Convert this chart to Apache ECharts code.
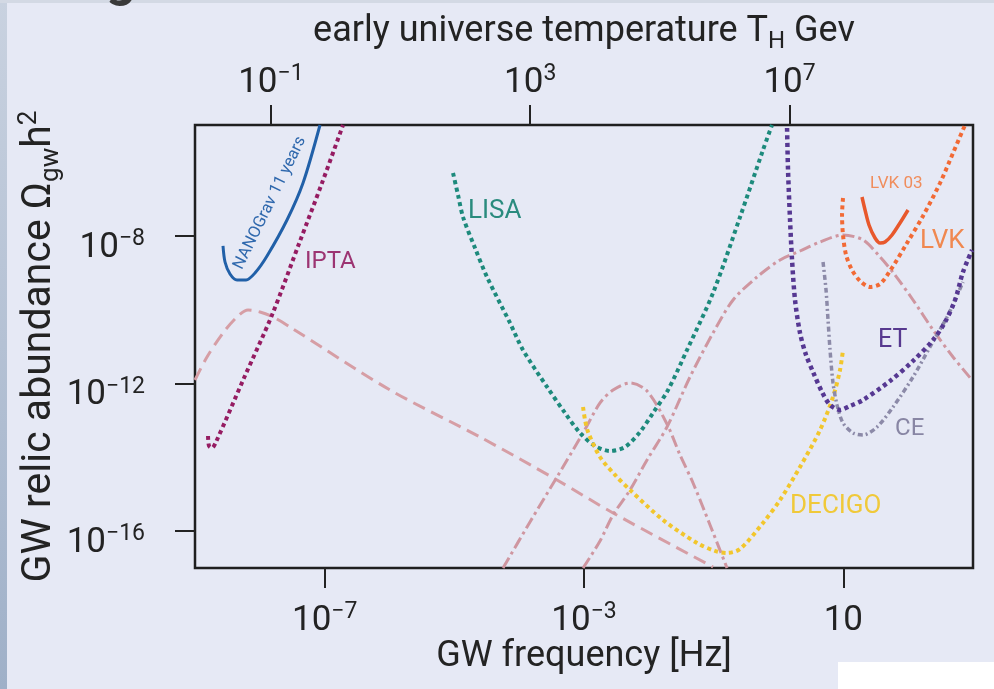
<!DOCTYPE html>
<html>
<head>
<meta charset="utf-8">
<script src="https://cdn.jsdelivr.net/npm/echarts@6/dist/echarts.min.js"></script>
<style>
  html, body { margin: 0; padding: 0; background: #e6e9f5; }
  #chart { width: 994px; height: 689px; }
</style>
</head>
<body>
<div id="chart"></div>
<script>
// All positions are stored as log10 values: x = log10(f / Hz), y = log10(Omega_gw h^2)
const freqTicks = [-7, -3, 1];
const tempTicks = [-1, 3, 7];
const omegaTicks = [-16, -12, -8];
const tempOffset = 6.83; // log10(T_H / GeV) = log10(f / Hz) + tempOffset

// Sensitivity curves
const nanograv = [[-8.568,-8.277],[-8.537,-8.711],[-8.46,-9.036],[-8.352,-9.198],[-8.213,-9.198],[-8.075,-9.009],[-7.889,-8.548],[-7.581,-7.573],[-7.334,-6.571],[-7.072,-5.0]];
const ipta = [[-8.799,-13.424],[-8.784,-13.694],[-8.738,-13.748],[-8.676,-13.586],[-8.244,-11.853],[-7.812,-10.146],[-7.38,-8.142],[-7.041,-6.571],[-6.717,-5.0]];
const lisa = [[-5.02,-6.3],[-4.943,-6.896],[-4.866,-7.492],[-4.681,-8.331],[-4.496,-9.117],[-4.141,-10.363],[-3.941,-11.094],[-3.57,-12.096],[-3.293,-12.8],[-3.061,-13.342],[-2.83,-13.695],[-2.599,-13.83],[-2.367,-13.722],[-2.136,-13.315],[-1.935,-12.8],[-1.704,-12.178],[-1.411,-11.094],[-1.01,-9.55],[-0.593,-7.492],[-0.239,-5.677],[-0.1,-5.0]];
const decigo = [[-3.015,-12.638],[-2.984,-12.99],[-2.938,-13.315],[-2.753,-13.992],[-2.521,-14.48],[-2.29,-14.886],[-1.781,-15.699],[-1.257,-16.322],[-0.979,-16.538],[-0.794,-16.592],[-0.593,-16.484],[-0.239,-15.78],[0.024,-15.157],[0.332,-14.263],[0.641,-13.261],[0.841,-12.367],[0.949,-11.636],[0.995,-11.094]];
const et = [[0.132,-5.081],[0.147,-6.219],[0.178,-7.573],[0.209,-8.657],[0.255,-9.74],[0.332,-10.634],[0.425,-11.23],[0.533,-11.69],[0.671,-12.232],[0.795,-12.584],[0.949,-12.719],[1.103,-12.611],[1.304,-12.449],[1.72,-11.934],[2.075,-11.392],[2.384,-10.823],[2.569,-10.336],[2.723,-9.74],[2.846,-8.982],[2.985,-8.386]];
const ce = [[0.687,-8.711],[0.733,-9.469],[0.764,-10.282],[0.795,-11.094],[0.841,-11.988],[0.903,-12.584],[0.995,-13.071],[1.15,-13.342],[1.304,-13.397],[1.52,-13.18],[1.767,-12.638],[2.075,-11.826],[2.337,-11.013],[2.6,-10.2],[2.723,-9.74],[2.846,-9.252]];
const lvk = [[0.995,-6.977],[0.98,-7.438],[0.995,-7.979],[1.042,-8.521],[1.134,-8.927],[1.258,-9.225],[1.412,-9.388],[1.566,-9.307],[1.72,-8.954],[1.983,-8.196],[2.229,-7.465],[2.492,-6.571],[2.692,-5.758],[2.877,-5.0]];
const lvkO3 = [[1.288,-6.95],[1.335,-7.302],[1.396,-7.708],[1.489,-8.061],[1.566,-8.196],[1.643,-8.169],[1.751,-7.979],[1.874,-7.654],[1.998,-7.302]];

// Predicted spectra
const spectrumLow = [[-9,-11.907],[-8.815,-11.284],[-8.568,-10.634],[-8.352,-10.2],[-8.182,-10.011],[-7.997,-10.065],[-7.797,-10.2],[-7.535,-10.471],[-5.992,-12.178],[-4.604,-13.451],[-3.416,-14.616],[-2.552,-15.509],[-1.01,-16.972]];
const spectrumMid = [[-4.249,-17.0],[-3.833,-15.753],[-3.416,-14.534],[-3.015,-13.342],[-2.753,-12.53],[-2.552,-12.178],[-2.29,-11.988],[-2.028,-12.205],[-1.72,-13.099],[-1.519,-13.938],[-1.318,-14.697],[-1.056,-15.834],[-0.794,-17.0]];
const spectrumHigh = [[-3.015,-17.0],[-2.753,-16.268],[-2.552,-15.563],[-2.29,-14.886],[-2.028,-14.074],[-1.72,-13.18],[-1.365,-11.826],[-1.01,-10.634],[-0.701,-9.74],[-0.331,-9.117],[0.024,-8.657],[0.332,-8.413],[0.641,-8.169],[0.995,-7.979],[1.304,-8.115],[1.566,-8.575],[1.797,-9.063],[2.075,-9.74],[2.384,-10.552],[2.692,-11.284],[2.985,-11.907]];

// Curve labels: [text, x, y]
const labelNanograv = ['NANOGrav 11 years', -7.843, -7.113];
const labelIpta = ['IPTA', -7.303, -8.711];
const labelLisa = ['LISA', -4.789, -7.356];
const labelDecigo = ['DECIGO', 0.178, -15.347];
const labelEt = ['ET', 1.535, -10.85];
const labelCe = ['CE', 1.797, -13.234];
const labelLvk = ['LVK', 2.183, -8.169];
const labelLvkO3 = ['LVK 03', 1.412, -6.598];

const FONT = 'Roboto, "Liberation Sans", sans-serif';
const INK = '#232323';

function pow10(v) {
  if (v === 1) return '{b|10}';
  const e = v < 0 ? '\u2212' + (-v) : String(v);
  return '{b|10}{s|' + e + '}';
}
const tickRich = {
  b: { fontSize: 35, lineHeight: 40, color: INK, fontFamily: FONT },
  s: { fontSize: 23, lineHeight: 22, verticalAlign: 'top', color: INK, fontFamily: FONT }
};
const nameRich = {
  t: { fontSize: 36, lineHeight: 44, color: INK, fontFamily: FONT },
  sub: { fontSize: 24, lineHeight: 18, verticalAlign: 'bottom', color: INK, fontFamily: FONT },
  sup: { fontSize: 24, lineHeight: 16, verticalAlign: 'top', color: INK, fontFamily: FONT }
};
const nameRichY = {
  t: { fontSize: 41, lineHeight: 48, color: INK, fontFamily: FONT },
  sub: { fontSize: 26, lineHeight: 20, verticalAlign: 'bottom', color: INK, fontFamily: FONT },
  sup: { fontSize: 26, lineHeight: 18, verticalAlign: 'top', color: INK, fontFamily: FONT }
};

function markLabel(lab, color, size, opts) {
  return {
    symbol: 'circle', symbolSize: 0, silent: true, animation: false,
    data: [{ coord: [lab[1], lab[2]] }],
    label: Object.assign({
      show: true, position: 'right', distance: 0, formatter: lab[0],
      color: color, fontSize: size, fontFamily: FONT
    }, opts || {})
  };
}

function curve(name, data, color, width, dash, label) {
  const s = {
    name: name, type: 'line', data: data, smooth: 0.3, showSymbol: false,
    symbol: 'none', clip: true, silent: true,
    lineStyle: { color: color, width: width, type: dash, cap: 'butt' }
  };
  if (label) s.markPoint = label;
  return s;
}

const pink = '#d69ea5';
const pinkDashDot = '#cf96a0';

const tickStyle = (vals) => ({ show: true, length: 20, inside: false, customValues: vals, lineStyle: { color: INK, width: 2 } });

const option = {
  animation: false,
  backgroundColor: '#e6e9f5',
  grid: {
    left: 195, top: 125, width: 778, height: 443,
    show: true, borderColor: '#1f1f1f', borderWidth: 2.5, backgroundColor: 'transparent',
    containLabel: false, outerBoundsMode: 'none'
  },
  xAxis: [
    {
      type: 'value', min: -9, max: 3, position: 'bottom',
      axisLine: { show: false, onZero: false },
      splitLine: { show: false },
      axisTick: tickStyle(freqTicks),
      axisLabel: { show: true, customValues: freqTicks, formatter: pow10, rich: tickRich, margin: 33, color: INK },
      name: 'GW frequency [Hz]', nameLocation: 'middle', nameGap: 67, nameMoveOverlap: false,
      nameTextStyle: { fontSize: 36, lineHeight: 44, color: INK, fontFamily: FONT }
    },
    {
      type: 'value', min: -9 + tempOffset, max: 3 + tempOffset, position: 'top',
      axisLine: { show: false, onZero: false },
      splitLine: { show: false },
      axisTick: tickStyle(tempTicks),
      axisLabel: { show: true, customValues: tempTicks, formatter: pow10, rich: tickRich, margin: 22, color: INK },
      name: '{t|early universe temperature T}{sub|H}{t| Gev}', nameLocation: 'middle', nameGap: 71, nameMoveOverlap: false,
      nameTextStyle: { rich: nameRich }
    }
  ],
  yAxis: [
    {
      type: 'value', min: -17, max: -5, position: 'left',
      axisLine: { show: false, onZero: false },
      splitLine: { show: false },
      axisTick: tickStyle(omegaTicks),
      axisLabel: { show: true, customValues: omegaTicks, formatter: pow10, rich: tickRich, margin: 50, padding: [24, 0, 0, 0], color: INK },
      name: '{t|GW relic abundance \u03A9}{sub|gw}{t|h}{sup|2}', nameLocation: 'middle', nameRotate: 90, nameGap: 131, nameMoveOverlap: false,
      nameTextStyle: { rich: nameRichY }
    }
  ],
  graphic: [
    { type: 'rect', left: 0, top: 0, z: -10, shape: { width: 7, height: 689 },
      style: { fill: new echarts.graphic.LinearGradient(0, 0, 0, 1, [{ offset: 0, color: '#c9d2e0' }, { offset: 1, color: '#9fb0c8' }]) } },
    { type: 'rect', left: 0, top: 0, z: -10, shape: { width: 994, height: 3 }, style: { fill: '#d3d9e4' } },
    { type: 'rect', left: 838, top: 662, z: -10, shape: { width: 156, height: 27 }, style: { fill: '#ffffff' } },
    { type: 'text', x: 106, y: -44, z: -5, style: { text: 'g', font: 'bold 52px ' + FONT, fill: '#3a3a3a' } }
  ],
  series: [
    curve('spectrum low', spectrumLow, pink, 3, [13, 7]),
    curve('spectrum mid', spectrumMid, pinkDashDot, 3, [12, 4, 3, 4]),
    curve('spectrum high', spectrumHigh, pinkDashDot, 3, [12, 4, 3, 4]),
    curve('IPTA', ipta, '#951c62', 4, [4, 3.5], markLabel(labelIpta, '#9c3472', 24)),
    curve('NANOGrav 11 years', nanograv, '#2160a8', 3, 'solid',
      markLabel(labelNanograv, '#2f68ad', 16.5, { position: 'inside', rotate: 64 })),
    curve('LISA', lisa, '#1d8a7c', 4, [4, 3.5], markLabel(labelLisa, '#2a8b7e', 26)),
    curve('DECIGO', decigo, '#f2c62c', 4, [4, 3.5], markLabel(labelDecigo, '#f0c93a', 26)),
    curve('CE', ce, '#8c8aa8', 3.5, [5, 3, 2, 3], markLabel(labelCe, '#8886a4', 24)),
    curve('ET', et, '#563892', 4.5, [4, 3.5], markLabel(labelEt, '#57398f', 25)),
    curve('LVK', lvk, '#f26a35', 4, [4, 3.5], markLabel(labelLvk, '#f08850', 26)),
    curve('LVK O3', lvkO3, '#e8582c', 3.5, 'solid', markLabel(labelLvkO3, '#f08d5c', 17))
  ]
};

const chart = echarts.init(document.getElementById('chart'), null, { renderer: 'canvas' });
chart.setOption(option);
</script>
</body>
</html>
